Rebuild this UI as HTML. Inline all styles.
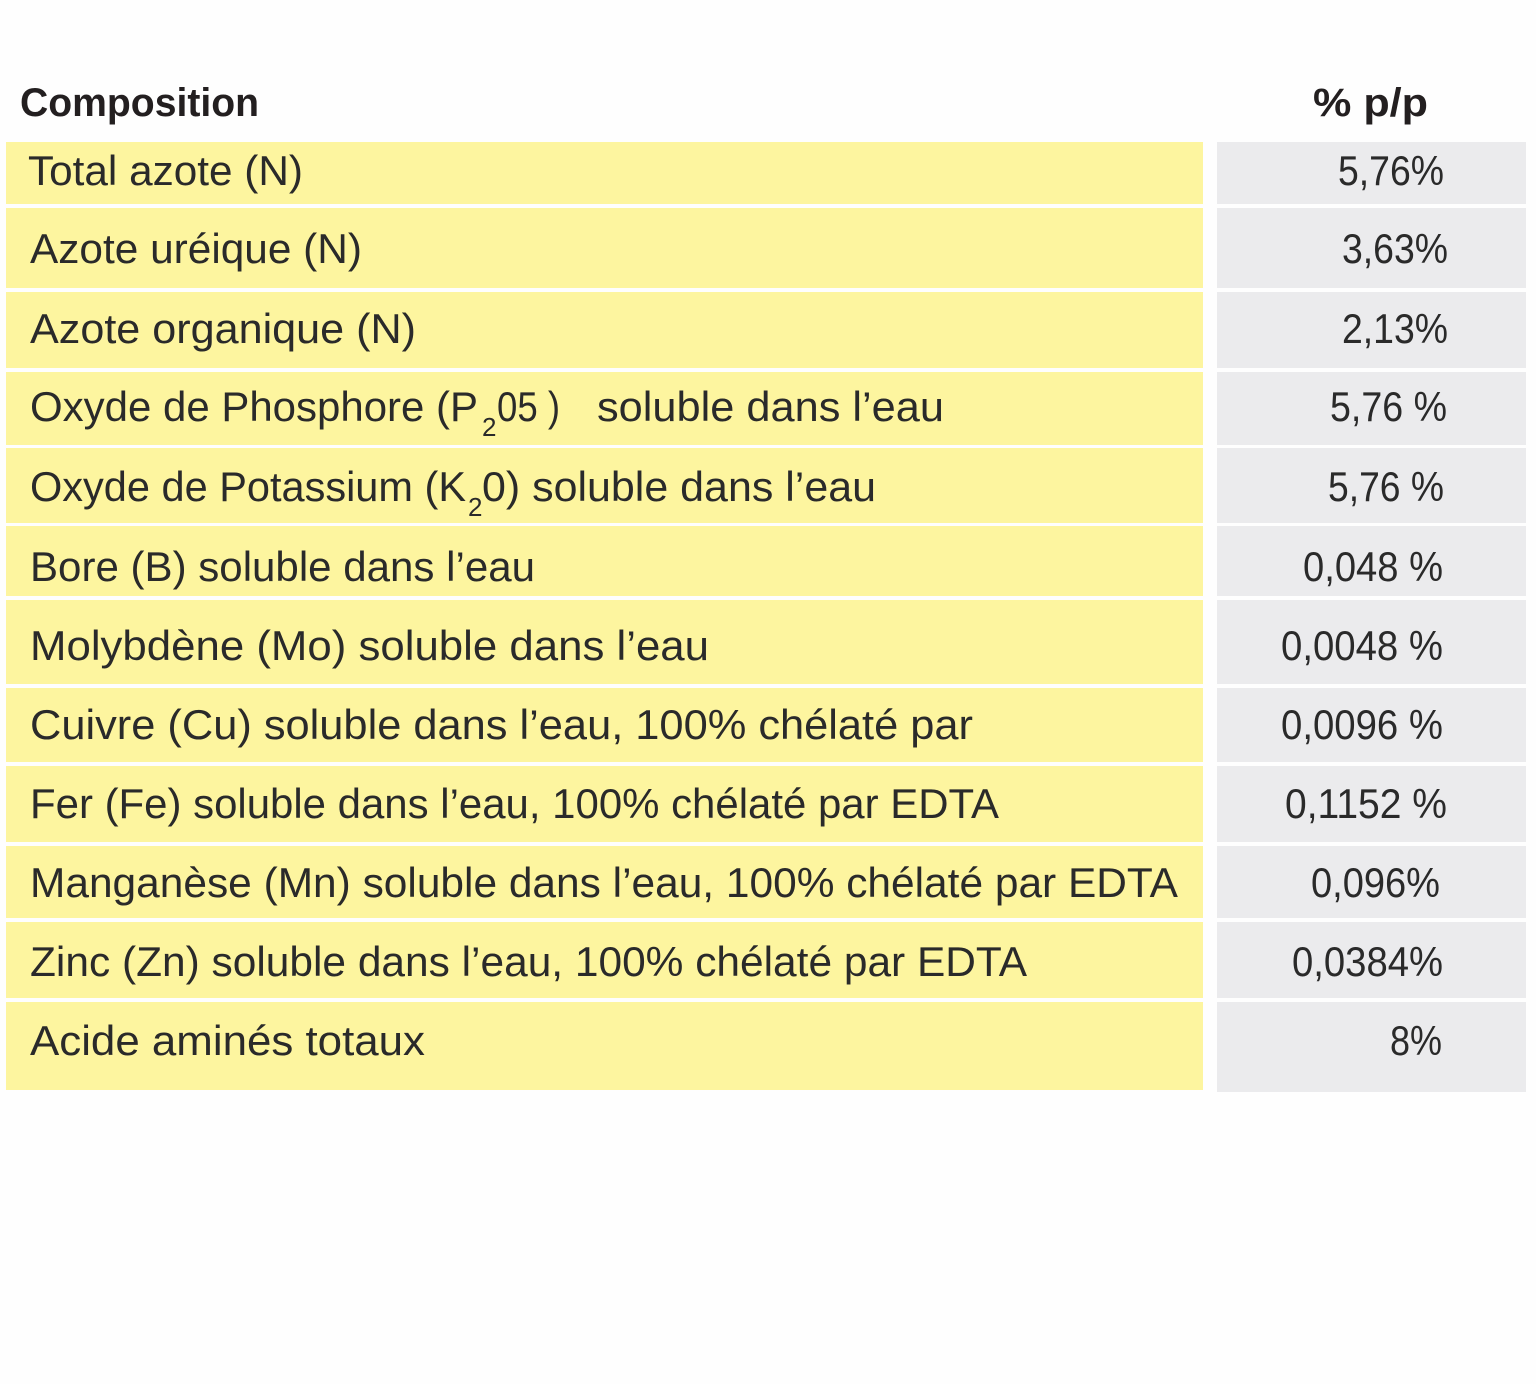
<!DOCTYPE html>
<html><head><meta charset="utf-8"><style>
html,body{margin:0;padding:0;background:#fff;}
svg{display:block;}
text{font-family:"Liberation Sans",sans-serif;fill:#2a2a2a;}
.r{font-size:42px;}
.h{font-size:40px;font-weight:bold;fill:#231f20;}
.s{font-size:26px;}
</style></head><body>
<svg width="1536" height="1384" viewBox="0 0 1536 1384" xmlns="http://www.w3.org/2000/svg">
<rect width="1536" height="1384" fill="#fefefe"/>
<text class="h" x="20" y="116" textLength="239" lengthAdjust="spacingAndGlyphs">Composition</text>
<text class="h" x="1313" y="116" textLength="115" lengthAdjust="spacingAndGlyphs">% p/p</text>
<g fill="#fdf59f">
<rect x="6" y="142" width="1197" height="62"/>
<rect x="6" y="208" width="1197" height="80"/>
<rect x="6" y="292" width="1197" height="76"/>
<rect x="6" y="372" width="1197" height="73"/>
<rect x="6" y="448" width="1197" height="75"/>
<rect x="6" y="526" width="1197" height="70"/>
<rect x="6" y="600" width="1197" height="84"/>
<rect x="6" y="688" width="1197" height="74"/>
<rect x="6" y="766" width="1197" height="76"/>
<rect x="6" y="846" width="1197" height="72"/>
<rect x="6" y="922" width="1197" height="76"/>
<rect x="6" y="1002" width="1197" height="88"/>
</g>
<g fill="#ebebed">
<rect x="1217" y="142" width="309" height="62"/>
<rect x="1217" y="208" width="309" height="80"/>
<rect x="1217" y="292" width="309" height="76"/>
<rect x="1217" y="372" width="309" height="73"/>
<rect x="1217" y="448" width="309" height="75"/>
<rect x="1217" y="526" width="309" height="70"/>
<rect x="1217" y="600" width="309" height="84"/>
<rect x="1217" y="688" width="309" height="74"/>
<rect x="1217" y="766" width="309" height="76"/>
<rect x="1217" y="846" width="309" height="72"/>
<rect x="1217" y="922" width="309" height="76"/>
<rect x="1217" y="1002" width="309" height="90"/>
</g>
<g class="r">
<text x="28" y="185" textLength="275" lengthAdjust="spacingAndGlyphs">Total azote (N)</text>
<text x="30" y="263" textLength="332" lengthAdjust="spacingAndGlyphs">Azote uréique (N)</text>
<text x="30" y="343" textLength="386" lengthAdjust="spacingAndGlyphs">Azote organique (N)</text>
<text x="30" y="421" textLength="448" lengthAdjust="spacingAndGlyphs">Oxyde de Phosphore (P</text>
<text class="s" x="482" y="436">2</text>
<text x="497" y="421" textLength="63" lengthAdjust="spacingAndGlyphs">05 )</text>
<text x="597" y="421" textLength="347" lengthAdjust="spacingAndGlyphs">soluble dans l’eau</text>
<text x="30" y="501" textLength="436" lengthAdjust="spacingAndGlyphs">Oxyde de Potassium (K</text>
<text class="s" x="468" y="516">2</text>
<text x="482" y="501" textLength="394" lengthAdjust="spacingAndGlyphs">0) soluble dans l’eau</text>
<text x="30" y="581" textLength="505" lengthAdjust="spacingAndGlyphs">Bore (B) soluble dans l’eau</text>
<text x="30" y="660" textLength="679" lengthAdjust="spacingAndGlyphs">Molybdène (Mo) soluble dans l’eau</text>
<text x="30" y="739" textLength="943" lengthAdjust="spacingAndGlyphs">Cuivre (Cu) soluble dans l’eau,  100% chélaté par</text>
<text x="30" y="818" textLength="969" lengthAdjust="spacingAndGlyphs">Fer (Fe) soluble dans l’eau,  100% chélaté par EDTA</text>
<text x="30" y="897" textLength="1148" lengthAdjust="spacingAndGlyphs">Manganèse (Mn) soluble dans l’eau, 100% chélaté par EDTA</text>
<text x="30" y="976" textLength="997" lengthAdjust="spacingAndGlyphs">Zinc (Zn) soluble dans l’eau,  100% chélaté  par EDTA</text>
<text x="30" y="1055" textLength="395" lengthAdjust="spacingAndGlyphs">Acide aminés totaux</text>
<text x="1338" y="185" textLength="106" lengthAdjust="spacingAndGlyphs">5,76%</text>
<text x="1342" y="263" textLength="106" lengthAdjust="spacingAndGlyphs">3,63%</text>
<text x="1342" y="343" textLength="106" lengthAdjust="spacingAndGlyphs">2,13%</text>
<text x="1330" y="421" textLength="117" lengthAdjust="spacingAndGlyphs">5,76 %</text>
<text x="1328" y="501" textLength="116" lengthAdjust="spacingAndGlyphs">5,76 %</text>
<text x="1303" y="581" textLength="140" lengthAdjust="spacingAndGlyphs">0,048 %</text>
<text x="1281" y="660" textLength="162" lengthAdjust="spacingAndGlyphs">0,0048 %</text>
<text x="1281" y="739" textLength="162" lengthAdjust="spacingAndGlyphs">0,0096 %</text>
<text x="1285" y="818" textLength="162" lengthAdjust="spacingAndGlyphs">0,1152 %</text>
<text x="1311" y="897" textLength="129" lengthAdjust="spacingAndGlyphs">0,096%</text>
<text x="1292" y="976" textLength="151" lengthAdjust="spacingAndGlyphs">0,0384%</text>
<text x="1390" y="1055" textLength="52" lengthAdjust="spacingAndGlyphs">8%</text>
</g>
</svg>
</body></html>
